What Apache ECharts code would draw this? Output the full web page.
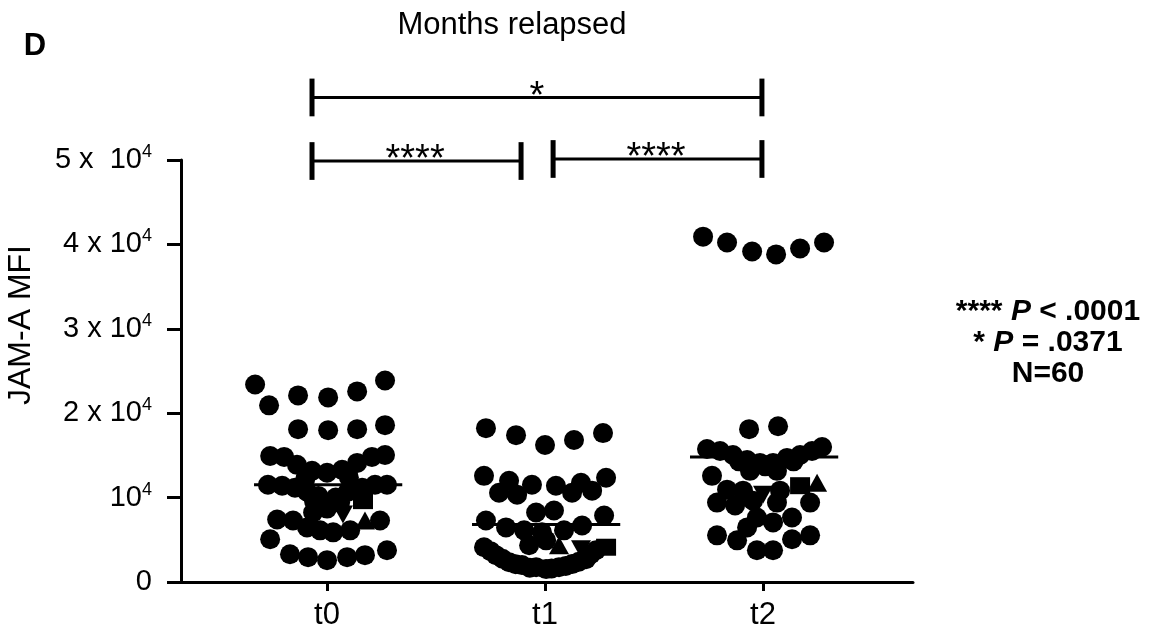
<!DOCTYPE html>
<html><head><meta charset="utf-8">
<script src="https://cdn.jsdelivr.net/npm/echarts@6/dist/echarts.min.js"></script>
<style>html,body{margin:0;padding:0;background:#fff}#c{width:1168px;height:631px}</style>
</head><body><div id="c"></div>
<script>
// ---------- data ----------
const categories = ['t0', 't1', 't2'];
const yTicks = [0, 10000, 20000, 30000, 40000, 50000];
const yTickLabels = ['0', '{m|10}{s|4}', '{m|2 x 10}{s|4}', '{m|3 x 10}{s|4}', '{m|4 x 10}{s|4}', '{m|5 x  10}{s|4}'];

// t0 : values and horizontal spread (category units)
const t0Values = [23400, 20930, 22110, 21870, 22580, 23870, 18110, 17990, 18110, 18580,
  14930, 14820, 13880, 13170, 12940, 13290, 14110, 14820, 15050,
  11520, 11410, 11170, 10700, 10700, 9050, 11170, 11520, 11520, 8230, 9410,
  12200, 12400, 10200, 10000, 9600, 8700,
  7410, 7290, 6470, 6120, 5880, 6120, 7290, 5060,
  3290, 2940, 2590, 2940, 3180, 3760];
const t0Offsets = [-0.33, -0.266, -0.133, 0.005, 0.138, 0.266, -0.133, 0.005, 0.138, 0.266,
  -0.261, -0.197, -0.138, -0.069, 0, 0.069, 0.138, 0.206, 0.266,
  -0.271, -0.206, -0.147, -0.092, 0.096, 0, 0.161, 0.220, 0.275, -0.064, 0.060,
  -0.100, 0.100, -0.040, 0.040, -0.060, 0.000,
  -0.229, -0.156, -0.092, -0.032, 0.028, 0.106, 0.243, -0.261,
  -0.170, -0.087, 0, 0.092, 0.174, 0.275];

const t1Values = [18230, 17400, 16230, 16820, 17640,
  12580, 12000, 10580, 10350, 11520, 11410, 10580, 11760, 10820, 12350,
  8230, 8470,
  7290, 6470, 6120, 5880, 6120, 6700, 7880,
  4350, 4940,
  4120, 3180, 2350, 2000, 1760, 1530, 1760, 2120, 2700, 3760,
  3650, 2750, 2100, 1700, 1600, 1900, 2400, 3300];
const t1Offsets = [-0.271, -0.133, 0, 0.133, 0.266,
  -0.280, -0.165, -0.211, -0.128, -0.060, 0.050, 0.124, 0.165, 0.216, 0.280,
  -0.041, 0.041,
  -0.271, -0.179, -0.096, -0.014, 0.087, 0.170, 0.271,
  -0.073, 0.005,
  -0.280, -0.225, -0.165, -0.106, -0.041, 0.005, 0.064, 0.124, 0.188, 0.234,
  -0.250, -0.195, -0.135, -0.070, 0.030, 0.095, 0.155, 0.210];

const t2Values = [40920, 40220, 39160, 38810, 39510, 40220,
  18110, 18460,
  15760, 15520, 15050, 14460, 14110, 14110, 14700, 15050, 15520, 15990,
  13170, 13170, 12580, 10940, 10820, 10820,
  9410, 9060, 9640, 9410, 9410,
  7640, 7060, 7640, 6470,
  5530, 4940, 5060, 5530, 3760, 3760,
  14300, 14300, 13700];
const t2Offsets = [-0.275, -0.165, -0.050, 0.060, 0.170, 0.280,
  -0.064, 0.069,
  -0.257, -0.197, -0.138, -0.073, -0.014, 0.046, 0.110, 0.170, 0.225, 0.271,
  -0.060, 0.064, -0.234, -0.165, -0.092, 0.078,
  -0.211, -0.128, -0.046, 0.064, 0.216,
  -0.028, 0.046, 0.133, -0.073,
  -0.211, -0.119, 0.133, 0.216, -0.028, 0.046,
  -0.110, 0.140, 0.010];

// special subjects (one per group)
const upTriValues = [7290, 4350, 11760];
const upTriOffsets = [0.174, 0.064, 0.248];
const downTriValues = [8000, 3880, 10350];
const downTriOffsets = [0.073, 0.165, 0];
const squareValues = [9640, 4120, 11410];
const squareOffsets = [0.165, 0.280, 0.170];

const means = [11525, 6820, 14820];

// significance brackets
const bracketSpans = [[-0.069, 1.995], [-0.069, 0.890], [1.037, 1.995]];
const bracketLevels = [57410, 49880, 50120];
const starLabels = ['*', '****', '****'];
const starPositions = [0.963, 0.404, 1.509];
const pNotes = ['{b|**** }{i|P}{b| < .0001}', '{b|* }{i|P}{b| = .0371}', '{b|N=60}'];

// ---------- chart ----------
const FONT = 'Liberation Sans, Arial, sans-serif';
const groups = [[t0Values, t0Offsets], [t1Values, t1Offsets], [t2Values, t2Offsets]];
const dots = [];
groups.forEach((g, i) => g[0].forEach((v, j) => dots.push([i + g[1][j], v])));
const mk = (vals, offs) => vals.map((v, i) => [i + offs[i], v]);
const black = { color: '#000', opacity: 1 };

const series = [];
means.forEach((m, i) => series.push({
  type: 'line', data: [[i - 0.335, m], [i + 0.345, m]], symbol: 'none', z: 2,
  lineStyle: { color: '#000', width: 3 }, silent: true, animation: false
}));
series.push({ type: 'scatter', data: dots, symbol: 'circle', symbolSize: 20, z: 3,
  itemStyle: black, animation: false });
series.push({ type: 'scatter', data: mk(upTriValues, upTriOffsets), symbol: 'triangle', symbolSize: [20, 18], z: 4,
  itemStyle: black, animation: false });
series.push({ type: 'scatter', data: mk(downTriValues, downTriOffsets), symbol: 'triangle', symbolRotate: 180, symbolSize: [20, 18], z: 4,
  itemStyle: black, animation: false });
series.push({ type: 'scatter', data: mk(squareValues, squareOffsets), symbol: 'rect', symbolSize: [20, 17], z: 4,
  itemStyle: black, animation: false });

const capHalf = 2235;
bracketSpans.forEach((s, k) => {
  const lv = bracketLevels[k];
  series.push({ type: 'line', data: [[s[0], lv], [s[1], lv]], symbol: 'none', clip: false,
    lineStyle: { color: '#000', width: 3 }, animation: false, silent: true });
  [s[0], s[1]].forEach(x => series.push({ type: 'line', data: [[x, lv - capHalf], [x, lv + capHalf]], symbol: 'none', clip: false,
    lineStyle: { color: '#000', width: 5, cap: 'butt' }, animation: false, silent: true }));
});
series.push({ type: 'scatter', clip: false, symbolSize: 0, silent: true, animation: false,
  itemStyle: black,
  data: starPositions.map((x, k) => ({ value: [x, bracketLevels[k]], label: { formatter: starLabels[k] } })),
  label: { show: true, position: 'inside', color: '#000', fontSize: 38, fontFamily: FONT } });

const chart = echarts.init(document.getElementById('c'), null, { renderer: 'canvas' });
chart.setOption({
  backgroundColor: '#fff',
  animation: false,
  grid: { left: 181, right: 255, top: 160, bottom: 46, containLabel: false },
  xAxis: {
    type: 'value', min: -0.67, max: 2.688,
    axisLine: { show: true, onZero: false, lineStyle: { color: '#000', width: 3 } },
    axisTick: { show: true, customValues: [0, 1, 2], length: 9, lineStyle: { color: '#000', width: 3 } },
    axisLabel: { customValues: [0, 1, 2], formatter: v => categories[Math.round(v)], margin: 18,
      color: '#000', fontSize: 31, fontFamily: FONT },
    splitLine: { show: false }
  },
  yAxis: {
    type: 'value', min: 0, max: 50000, interval: 10000,
    axisLine: { show: true, onZero: false, lineStyle: { color: '#000', width: 3 } },
    axisTick: { show: true, length: 14, lineStyle: { color: '#000', width: 3 } },
    axisLabel: {
      margin: 29, color: '#000', fontSize: 29, fontFamily: FONT,
      formatter: v => yTickLabels[yTicks.indexOf(v)],
      rich: { m: { fontSize: 29, fontFamily: FONT, color: '#000' },
              s: { fontSize: 18, fontFamily: FONT, color: '#000', padding: [0, 0, 16, 0] } }
    },
    splitLine: { show: false }
  },
  graphic: [
    { type: 'text', x: 512, y: 25, style: { text: 'Months relapsed', fontSize: 31, fontFamily: FONT, fill: '#000', textAlign: 'center', textVerticalAlign: 'middle' } },
    { type: 'text', x: 35, y: 46, style: { text: 'D', fontSize: 31, fontWeight: 'bold', fontFamily: FONT, fill: '#000', textAlign: 'center', textVerticalAlign: 'middle' } },
    { type: 'text', x: 21, y: 325, rotation: Math.PI / 2, style: { text: 'JAM-A MFI', fontSize: 32, fontFamily: FONT, fill: '#000', textAlign: 'center', textVerticalAlign: 'middle' } },
    ...pNotes.map((t, k) => ({ type: 'text', x: 1048, y: 312 + k * 31, style: {
      text: t, textAlign: 'center', textVerticalAlign: 'middle',
      rich: { b: { fontSize: 30, fontWeight: 'bold', fontFamily: FONT, fill: '#000' },
              i: { fontSize: 30, fontWeight: 'bold', fontStyle: 'italic', fontFamily: FONT, fill: '#000' } } } }))
  ],
  series: series
});
</script></body></html>
